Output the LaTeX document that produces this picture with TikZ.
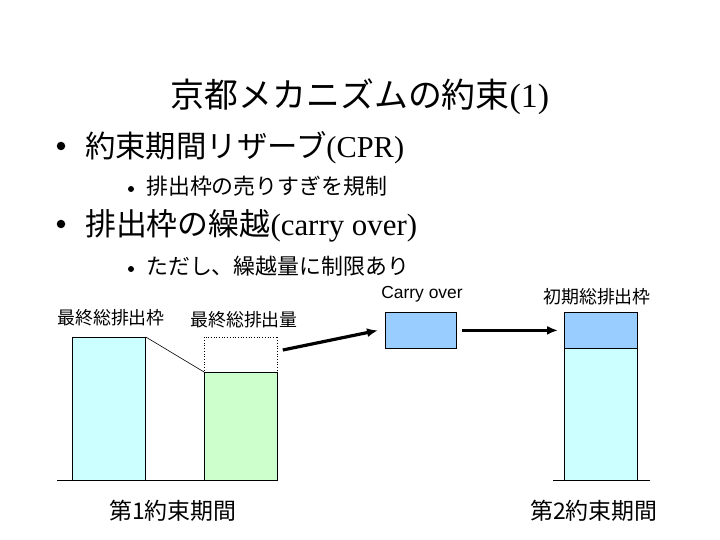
\documentclass[tikz,border=0pt]{standalone}
\usepackage{fontspec}
\setmainfont{Liberation Serif}
\setsansfont{Liberation Sans}
\newfontfamily\jp{Noto Sans CJK JP}
\usepackage{xcolor}
\usetikzlibrary{arrows.meta,positioning,calc}
\definecolor{quotacyan}{HTML}{CCFFFF}
\definecolor{usedgreen}{HTML}{CCFFCC}
\definecolor{carryblue}{HTML}{99CCFF}
\newcommand{\fs}[1]{\fontsize{#1}{#1}\selectfont}

\begin{document}
\begin{tikzpicture}[x=1bp,y=-1bp,
  box/.style={draw,line width=0.8bp,minimum width=73bp,anchor=north west,inner sep=0pt},
  dot/.style={circle,fill,inner sep=0pt,minimum size=#1},
  lbl/.style={font=\jp\fs{18}},
  period/.style={font=\jp\fs{23}},
  fat/.style={line width=3.2bp,-{Latex[length=11bp,width=9bp]}}]
\useasboundingbox (0,0) rectangle (720,540);
% title and bullets
\node[font=\fs{34}] (title) at (360,97) {{\jp 京都メカニズムの約束}(1)};
\node[dot=8.5bp] (bulA) at (61,146) {};
\node[font=\fs{30.5},anchor=west,inner sep=0pt] (itemA) at (85,148) {{\jp 約束期間リザーブ}(CPR)};
\node[dot=6bp] (subbulA) at (131,189) {};
\node[font=\jp\fs{22},anchor=west,inner sep=0pt] (subA) at (146,186) {排出枠の売りすぎを規制};
\node[dot=8.5bp] (bulB) at (61,224) {};
\node[font=\fs{31},anchor=west,inner sep=0pt] (itemB) at (85,226) {{\jp 排出枠の繰越}(carry over)};
\node[dot=6bp] (subbulB) at (131,269) {};
\node[font=\jp\fs{22},anchor=west,inner sep=0pt] (subB) at (146,266) {ただし、繰越量に制限あり};
% first period
\node[box,fill=quotacyan,minimum height=143bp] (quotaA) at (72,337) {};
\node[box,draw=none,minimum height=143bp] (frameA) at (204,337) {};
\draw[dotted,line width=0.7bp] (frameA.south west) -- (frameA.north west) -- (frameA.north east) -- (frameA.south east);
\node[box,fill=usedgreen,minimum height=108bp] (usedA) at (204,372) {};
\draw[line width=0.6bp] (quotaA.north east) -- (usedA.north west);
\draw[line width=0.8bp] (57,480) -- (243,480);
\node[lbl] (quotaLbl) at (111,318) {最終総排出枠};
\node[lbl] (usedLbl) at (244,320) {最終総排出量};
\node[period] (periodA) at (173,511) {第1約束期間};
% carry over
\node[box,fill=carryblue,minimum width=71bp,minimum height=36bp] (carry) at (385,312) {};
\node[font=\sffamily\fs{17.5}] (carryLbl) at (422,294) {Carry over};
% second period
\node[box,fill=quotacyan,minimum height=132bp] (quotaB) at (564,348) {};
\node[box,fill=carryblue,minimum height=36bp] (initB) at (564,312) {};
\draw[line width=0.8bp] (553,480) -- (650,480);
\node[lbl] (initLbl) at (597,297) {初期総排出枠};
\node[period] (periodB) at (594,511) {第2約束期間};
% arrows
\draw[fat] ($(frameA.north east)+(5,13)$) -- ($(carry.west)+(-7,0)$);
\draw[fat] ($(carry.east)+(5,0)$) -- ($(initB.west)+(-6,0)$);
\end{tikzpicture}
\end{document}
